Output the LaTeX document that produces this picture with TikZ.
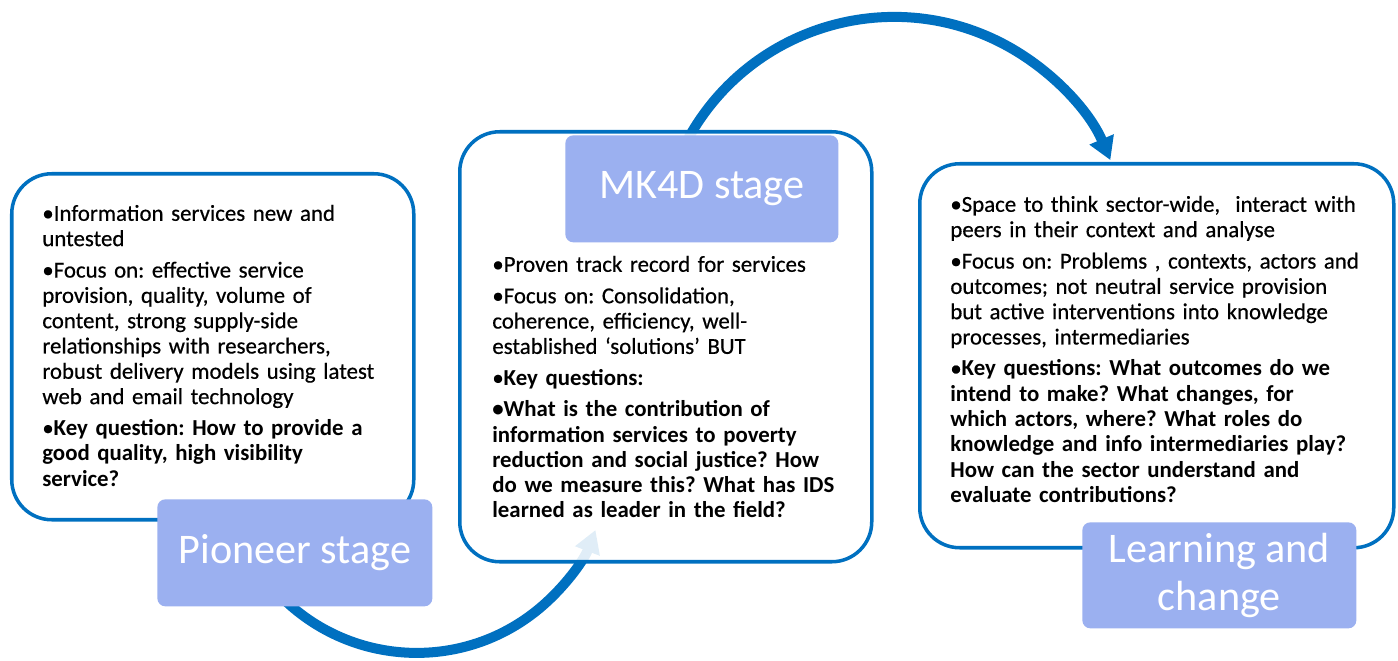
\documentclass[tikz,border=0pt]{standalone}
\usepackage{fontspec}
\setmainfont{Carlito}[UprightFeatures={FakeBold=0.5}]
\newfontfamily\tagfont{Carlito}
\usetikzlibrary{arrows.meta,positioning}

\definecolor{ringblue}{HTML}{0070C0}
\definecolor{tagblue}{HTML}{9BB0F0}

% one bullet paragraph, later lines hang under the text
\newlength{\bulletw}
\newcommand{\itm}[1]{\settowidth{\bulletw}{\textbullet}\par\hangindent=\bulletw\hangafter=1\noindent\textbullet#1\par}

\tikzset{
  card/.style={draw=ringblue, line width=2pt, rounded corners=0.8cm, fill=white, fill opacity=0.88, inner sep=0, anchor=north west},
  tag/.style={fill=tagblue, rounded corners=0.16cm, text=white, font=\tagfont\fontsize{24}{27}\selectfont, align=center, inner sep=0, anchor=north west},
  body/.style={text width=9cm, align=left, inner sep=0, anchor=north west, font=\fontsize{13}{14.4}\selectfont\frenchspacing\setlength{\parskip}{3.5pt}},
  flow/.style={ringblue, line width=0.2cm, -{Triangle[width=0.5cm,length=0.45cm]}}
}

\begin{document}
\begin{tikzpicture}

\useasboundingbox (0,0) rectangle (27.96,13.22);

% arcs between the stages
\coordinate (rise) at (5.40,1.53);
\coordinate (leap) at (13.77,10.46);
\draw[flow] (rise) arc[start angle=-140, end angle=-21, radius=3.83];
\draw[flow] (leap) arc[start angle=151, end angle=23, radius=4.70];

% Pioneer stage
\node[card, minimum width=8.04cm, minimum height=6.92cm] (pioneerbox) at (0.2,9.78) {};
\node[body] (pioneertext) at (0.84,9.44) {%
\itm{Information services new and\\untested}
\itm{Focus on: effective service\\provision, quality, volume of\\content, strong supply-side\\relationships with researchers,\\robust delivery models using latest\\web and email technology}
\itm{\bfseries Key question: How to provide a\\good quality, high visibility\\service?}};
\node[tag, minimum width=5.5cm, minimum height=2.14cm] (pioneer) at (3.14,3.24) {Pioneer stage};

% MK4D stage
\node[card, minimum width=8.24cm, minimum height=8.6cm] (mkbox) at (9.16,10.62) {};
\node[body] (mktext) at (9.84,8.42) {%
\itm{Proven track record for services}
\itm{Focus on: Consolidation,\\coherence, efficiency, well-\\established `solutions' BUT}
\itm{\bfseries Key questions:}
\itm{\bfseries What is the contribution of\\information services to poverty\\reduction and social justice? How\\do we measure this? What has IDS\\learned as leader in the field?}};
\node[tag, minimum width=5.46cm, minimum height=2.14cm] (mk) at (11.3,10.52) {MK4D stage};

% Learning and change
\node[card, minimum width=9.48cm, minimum height=7.68cm] (learnbox) at (18.36,9.98) {};
\node[body] (learntext) at (19.0,9.62) {%
\itm{Space to think sector-wide,\ \ interact with\\peers in their context and analyse}
\itm{Focus on: Problems , contexts, actors and\\outcomes; not neutral service provision\\but active interventions into knowledge\\processes, intermediaries}
\itm{\bfseries Key questions: What outcomes do we\\intend to make? What changes, for\\which actors, where? What roles do\\knowledge and info intermediaries play?\\How can the sector understand and\\evaluate contributions?}};
\node[tag, minimum width=5.48cm, minimum height=2.12cm] (learn) at (21.64,2.78) {Learning and\\change};

\end{tikzpicture}
\end{document}
